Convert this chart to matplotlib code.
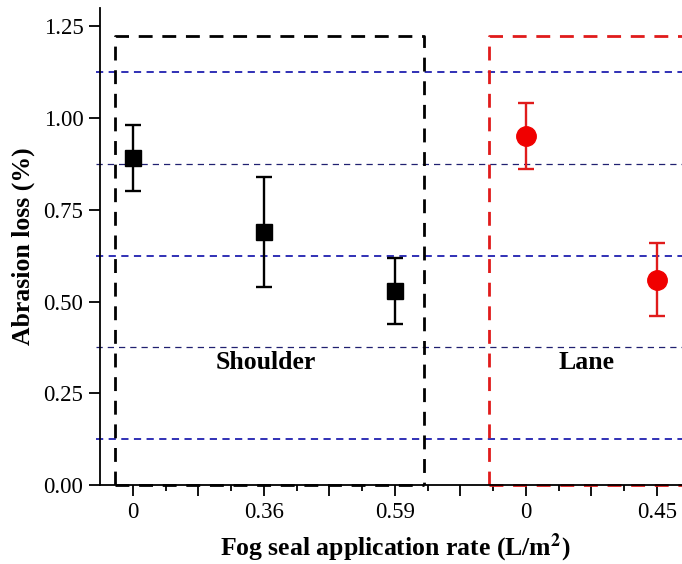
import numpy as np
import matplotlib
matplotlib.use("Agg")
import matplotlib.pyplot as plt
from matplotlib.ticker import FixedLocator

plt.rcParams['font.family'] = ['Liberation Serif', 'DejaVu Serif']
plt.rcParams['mathtext.fontset'] = 'stix'

# Datos
etiquetas = ["0", "0.36", "0.59", "0", "0.45"]
pos_hombro = [1, 2, 3]
abrasion_hombro = [0.89, 0.69, 0.53]
error_hombro = [0.09, 0.15, 0.09]
pos_carril = [4, 5]
abrasion_carril = [0.95, 0.56]
error_carril = [0.09, 0.10]
lineas_ref = [1.125, 0.875, 0.625, 0.375, 0.125]

fig = plt.figure(figsize=(6.82, 5.64), dpi=100)
ax = fig.add_axes([100/682, 79/564, 589.5/682, 477/564])

# lineas horizontales de referencia
for i, yv in enumerate(lineas_ref):
    if i % 2 == 0:
        ax.plot([0.72, 5.25], [yv, yv], ls=(0, (4, 3)), color='#2020b0', lw=1.3, clip_on=False, zorder=1)
    else:
        ax.plot([0.72, 5.25], [yv, yv], ls=(0, (5, 4)), color='#202070', lw=0.9, clip_on=False, zorder=1)

# cajas de los grupos
ax.plot([0.865, 0.865, 3.22, 3.22], [0, 1.225, 1.225, 0], ls=(0, (5, 3.5)), color='black', lw=2, zorder=2)
ax.plot([0.865, 3.22], [0, 0], ls=(0, (5, 3.5)), color='black', lw=2, zorder=2, clip_on=False)
ax.plot([3.72, 3.72, 5.3], [0, 1.225, 1.225], ls=(0, (5, 3.5)), color='#e01b1b', lw=2, zorder=2)
ax.plot([3.72, 5.3], [0, 0], ls=(0, (5, 3.5)), color='#e01b1b', lw=2, zorder=2, clip_on=False)

ax.errorbar(pos_hombro, abrasion_hombro, yerr=error_hombro, fmt='s', color='black',
            ms=11.5, capsize=5.5, elinewidth=1.7, capthick=1.7, zorder=5)
ax.errorbar(pos_carril, abrasion_carril, yerr=error_carril, fmt='o', color='#f00000',
            ecolor='#e01b1b', ms=14, capsize=5.5, elinewidth=1.7, capthick=1.7, zorder=5)

ax.text(2.015, 0.335, "Shoulder", ha='center', va='center', fontsize=18.5, fontweight='bold')
ax.text(4.46, 0.335, "Lane", ha='center', va='center', fontsize=18.5, fontweight='bold')

ax.set_xlim(0.75, 5.25)
ax.set_ylim(0, 1.30)
# ticks mayores cada media posicion, etiquetas solo en las enteras
ticks_x = np.arange(1, 5.01, 0.5)
ax.set_xticks(ticks_x)
textos_x = []
for k, tx in enumerate(ticks_x):
    textos_x.append(etiquetas[k // 2] if k % 2 == 0 else "")
ax.set_xticklabels(textos_x)
ax.xaxis.set_minor_locator(FixedLocator(np.arange(1.25, 5.0, 0.5)))
ax.set_yticks([0, 0.25, 0.5, 0.75, 1.0, 1.25])
ax.set_yticklabels(["0.00", "0.25", "0.50", "0.75", "1.00", "1.25"])
ax.tick_params(axis='both', which='major', direction='out', length=8, width=1.3, labelsize=16.5, pad=4)
ax.tick_params(axis='x', which='minor', direction='out', length=4, width=1.3)
ax.spines['top'].set_visible(False)
ax.spines['right'].set_visible(False)
ax.spines['left'].set_linewidth(1.3)
ax.spines['bottom'].set_linewidth(1.3)

ax.set_xlabel(r"Fog seal application rate (L/m$^{\mathbf{2}}$)", fontsize=18.5, fontweight='bold', labelpad=6)
ax.set_ylabel("Abrasion loss (%)", fontsize=18.5, fontweight='bold', labelpad=6)

plt.savefig("out.png", dpi=100)
